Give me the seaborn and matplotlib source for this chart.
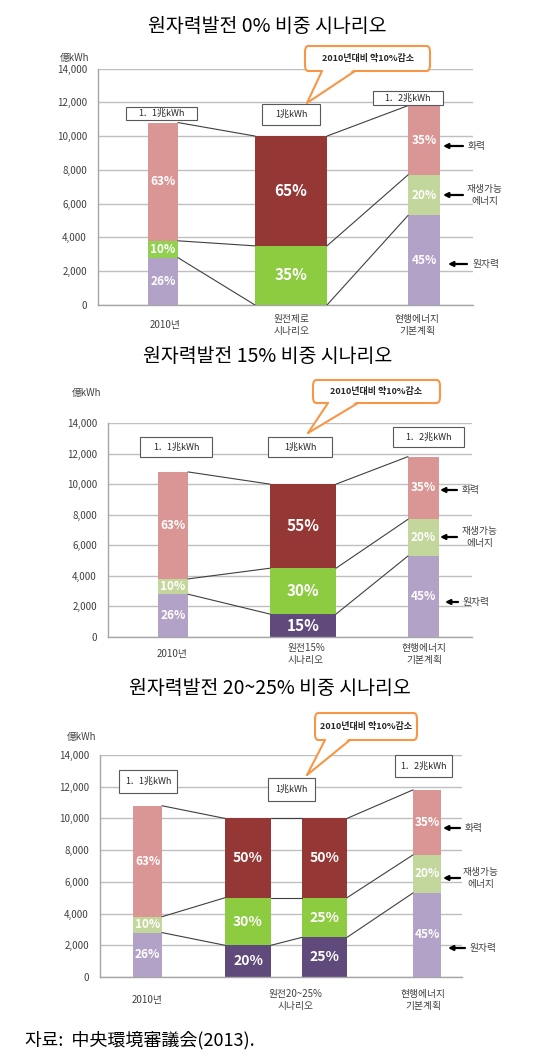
import matplotlib
matplotlib.use("Agg")
import matplotlib.pyplot as plt
from matplotlib.patches import Rectangle, FancyBboxPatch, Polygon
from matplotlib.lines import Line2D
import seaborn as sns

# --------------------------------------------------
# DATA (億kWh)
# --------------------------------------------------

titles = [
    "원자력발전 0% 비중 시나리오",
    "원자력발전 15% 비중 시나리오",
    "원자력발전 20~25% 비중 시나리오",
]

p1_cats = ["2010년", "원전제로\n시나리오", "현행에너지\n기본계획"]
p1_nuclear = [2800, 0, 5300]
p1_renew = [1000, 3500, 2400]
p1_thermal = [7000, 6500, 4100]
p1_pct = [["26%", "10%", "63%"], ["", "35%", "65%"], ["45%", "20%", "35%"]]

p2_cats = ["2010년", "원전15%\n시나리오", "현행에너지\n기본계획"]
p2_nuclear = [2800, 1500, 5300]
p2_renew = [1000, 3000, 2400]
p2_thermal = [7000, 5500, 4100]
p2_pct = [["26%", "10%", "63%"], ["15%", "30%", "55%"], ["45%", "20%", "35%"]]

p3_cats = ["2010년", "원전20~25%\n시나리오", "현행에너지\n기본계획"]
p3_nuclear = [2800, 2000, 2500, 5300]
p3_renew = [1000, 3000, 2500, 2400]
p3_thermal = [7000, 5000, 5000, 4100]
p3_pct = [["26%", "10%", "63%"], ["20%", "30%", "50%"],
          ["25%", "25%", "50%"], ["45%", "20%", "35%"]]

total_labels = ["1．1兆kWh", "1兆kWh", "1．2兆kWh"]
callout_text = "2010년대비 약10%감소"
side_labels = ["화력", "재생가능\n에너지", "원자력"]
unit_label = "億kWh"
source_note = "자료:  中央環境審議会(2013)."

# --------------------------------------------------
# STYLE / LAYOUT (pixels of a 552x1064 canvas)
# --------------------------------------------------

W, H = 552, 1064

LIGHT = {"nuc": "#B3A2C7", "ren": "#C3D69B", "the": "#D99694"}
DARK = {"nuc": "#604A7B", "ren": "#8DCB41", "the": "#953735"}
BRIGHT_2010 = {"nuc": "#B3A2C7", "ren": "#92D050", "the": "#D99694"}
ORANGE = "#F79646"

panels = [
    dict(data=(p1_nuclear, p1_renew, p1_thermal), pct=p1_pct, cats=p1_cats,
         left=98, right=473, y0=305, y14=68.5,
         centers=[163, 291, 424], widths=[30, 72, 32], fsz=[8.5, 11, 8.5],
         colors=[BRIGHT_2010, DARK, LIGHT],
         cat_x=[165, 292, 417], cat_dy=20,
         title=(267, 27), unit=(75, 58),
         boxes=[(126, 107, 71, 13), (262, 104, 58, 21), (373, 91, 70, 14)],
         callout=(305, 46, 125, 25), wedge=(322, 355, 307, 103),
         arrows=[(146, 443, 463, 468), (195, 443, 463, 467), (264, 448, 467, 473)]),
    dict(data=(p2_nuclear, p2_renew, p2_thermal), pct=p2_pct, cats=p2_cats,
         left=108, right=472, y0=637, y14=423,
         centers=[173, 303, 423.5], widths=[30, 66, 31], fsz=[8.5, 11, 8.5],
         colors=[LIGHT, DARK, LIGHT],
         cat_x=[172, 306, 424], cat_dy=17,
         title=(268, 356), unit=(87, 393),
         boxes=[(140, 437, 72, 20), (268, 437, 64, 20), (393, 427, 71, 20)],
         callout=(313, 380, 127, 23), wedge=(328, 358, 308, 433),
         arrows=[(490, 440, 457, 462), (537, 440, 457, 462), (602, 445, 458, 463)]),
    dict(data=(p3_nuclear, p3_renew, p3_thermal), pct=p3_pct, cats=p3_cats,
         left=100, right=462, y0=977, y14=755,
         centers=[147.5, 248, 324.5, 427], widths=[29, 46, 45, 28],
         fsz=[8.5, 10, 10, 8.5],
         colors=[LIGHT, DARK, DARK, LIGHT],
         cat_x=[147, 296, 423], cat_dy=23,
         title=(270, 689), unit=(82, 737),
         boxes=[(119, 770, 58, 23), (268, 778, 47, 23), (395, 755, 57, 22)],
         callout=(315, 713, 102, 27), wedge=(325, 350, 307, 775),
         arrows=[(828, 443, 460, 465), (878, 443, 460, 463), (948, 448, 465, 470)]),
]

sns.set_style("white")
plt.rcParams["font.family"] = ["Noto Sans CJK KR", "DejaVu Sans"]

fig = plt.figure(figsize=(W / 100, H / 100), dpi=100)


def fx(x):
    return x / W


def fy(y):
    return 1 - y / H


for k, cfg in enumerate(panels):

    ax = fig.add_axes([
        fx(cfg["left"]), fy(cfg["y0"]),
        (cfg["right"] - cfg["left"]) / W, (cfg["y0"] - cfg["y14"]) / H
    ])

    nuc, ren, the = cfg["data"]
    n = len(nuc)

    # stacked bars: draw cumulative heights from the top layer down
    levels = []
    for j in range(n):
        tops = [nuc[j] + ren[j] + the[j], nuc[j] + ren[j], nuc[j]]
        levels.append(tops)
        cols = [cfg["colors"][j]["the"], cfg["colors"][j]["ren"], cfg["colors"][j]["nuc"]]
        for h, c in zip(tops, cols):
            if h > 0:
                sns.barplot(
                    x=[cfg["centers"][j]], y=[h], orient="x",
                    native_scale=True, width=cfg["widths"][j],
                    color=c, saturation=1, errorbar=None,
                    linewidth=0, ax=ax, zorder=2
                )

        # percentage labels in the segments
        bottoms = [0, nuc[j], nuc[j] + ren[j]]
        heights = [nuc[j], ren[j], the[j]]
        for b, h, txt in zip(bottoms, heights, cfg["pct"][j]):
            if txt:
                ax.text(cfg["centers"][j], b + h / 2, txt, color="white",
                        fontsize=cfg["fsz"][j], fontweight="bold",
                        ha="center", va="center", zorder=4)

    # connector lines between neighbouring bars
    for j in range(n - 1):
        x1 = cfg["centers"][j] + cfg["widths"][j] / 2
        x2 = cfg["centers"][j + 1] - cfg["widths"][j + 1] / 2
        for a, b in zip(levels[j], levels[j + 1]):
            ax.plot([x1, x2], [a, b], color="#3F3F3F", lw=0.8, zorder=3)

    ax.set_xlim(cfg["left"], cfg["right"])
    ax.set_ylim(0, 14000)
    ax.set_yticks(range(0, 14001, 2000))
    ax.set_yticklabels([f"{v:,}" for v in range(0, 14001, 2000)])
    ax.set_xticks([])
    ax.set_xlabel("")
    ax.set_ylabel("")
    ax.yaxis.grid(True, color="#BFBFBF", lw=1)
    ax.set_axisbelow(True)
    ax.tick_params(axis="y", length=0, pad=8, labelsize=7, labelcolor="#404040")
    for side in ["top", "right"]:
        ax.spines[side].set_visible(False)
    for side in ["left", "bottom"]:
        ax.spines[side].set_color("#A6A6A6")
        ax.spines[side].set_linewidth(1)

    # category labels below the axis
    for cx, lbl in zip(cfg["cat_x"], cfg["cats"]):
        ax.annotate(lbl, xy=(cx, 0), xytext=(0, -cfg["cat_dy"]),
                    textcoords="offset pixels", ha="center", va="center",
                    fontsize=7, color="#404040", linespacing=1.25,
                    annotation_clip=False)

    # title and unit
    fig.text(fx(cfg["title"][0]), fy(cfg["title"][1]), titles[k],
             ha="center", va="center", fontsize=14, color="black")
    fig.text(fx(cfg["unit"][0]), fy(cfg["unit"][1]), unit_label,
             ha="center", va="center", fontsize=7, color="#404040")

    # total boxes above bars
    for (bx, by, bw, bh), txt in zip(cfg["boxes"], total_labels):
        fig.add_artist(Rectangle((fx(bx), fy(by + bh)), bw / W, bh / H,
                                 transform=fig.transFigure, facecolor="white",
                                 edgecolor="#595959", lw=0.8, zorder=5))
        fig.text(fx(bx + bw / 2), fy(by + bh / 2), txt, ha="center", va="center",
                 fontsize=6.5, color="#262626", zorder=6)

    # orange speech-bubble callout
    cx0, cy0, cw, ch = cfg["callout"]
    wl, wr, tx, ty = cfg["wedge"]
    fig.add_artist(FancyBboxPatch((fx(cx0), fy(cy0 + ch)), cw / W, ch / H,
                                  boxstyle="round,pad=0,rounding_size=0.006",
                                  transform=fig.transFigure, facecolor="white",
                                  edgecolor=ORANGE, lw=1.5, zorder=7))
    fig.add_artist(Polygon([(fx(wl + 1), fy(cy0 + ch - 1.5)), (fx(tx), fy(ty)),
                            (fx(wr - 1), fy(cy0 + ch - 1.5))],
                           closed=True, transform=fig.transFigure,
                           facecolor="white", edgecolor="none", zorder=8))
    for wx in (wl, wr):
        fig.add_artist(Line2D([fx(wx), fx(tx)], [fy(cy0 + ch), fy(ty)],
                              transform=fig.transFigure, color=ORANGE,
                              lw=1.5, zorder=9))
    fig.text(fx(cx0 + cw / 2), fy(cy0 + ch / 2), callout_text, ha="center",
             va="center", fontsize=6.5, fontweight="bold", color="#262626",
             zorder=10)

    # side arrows and legend words
    for (ay, hx, tx_, lx), lbl in zip(cfg["arrows"], side_labels):
        ax.annotate("", xy=(hx, H - ay), xytext=(tx_, H - ay),
                    xycoords="figure pixels", textcoords="figure pixels",
                    arrowprops=dict(arrowstyle="-|>", color="black", lw=1.6,
                                    mutation_scale=7, shrinkA=0, shrinkB=0),
                    annotation_clip=False)
        fig.text(fx(lx), fy(ay), lbl, ha="left", va="center", fontsize=7,
                 color="#404040", multialignment="center", linespacing=1.15)

fig.text(fx(25), fy(1040), source_note, ha="left", va="center",
         fontsize=13, color="black")

fig.savefig("out.png", dpi=100)
